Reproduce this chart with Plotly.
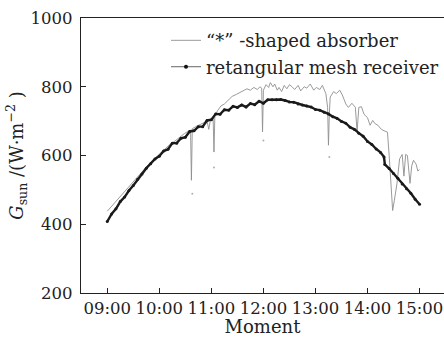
import plotly.graph_objects as go

# ---- data ----
gray_times = ["09:00","09:06","09:12","09:18","09:24","09:30","09:36","09:42","09:48","09:54",
              "10:00","10:05","10:09","10:13","10:18","10:22","10:25","10:29","10:33","10:36",
              "10:37","10:38","10:42","10:47","10:51","10:55","10:57","10:59","11:02","11:03",
              "11:04","11:07","11:11","11:15","11:19","11:24","11:29","11:33","11:37","11:41",
              "11:45","11:49","11:53","11:56","11:58","11:59","12:00","12:03","12:06","12:08",
              "12:11","12:13","12:16","12:18","12:21","12:24","12:27","12:30","12:33","12:36",
              "12:40","12:43","12:47","12:50","12:54","12:58","13:01","13:05","13:08","13:12",
              "13:14","13:15","13:16","13:17","13:21","13:24","13:28","13:31","13:35","13:38",
              "13:42","13:46","13:48","13:50","13:53","13:56","14:00","14:03","14:06","14:09",
              "14:12","14:16","14:19","14:23","14:25","14:28","14:29","14:31","14:34","14:37",
              "14:40","14:42","14:44","14:46","14:49","14:51","14:53","14:56","14:58","15:00"]
gray_values = [438, 455, 474, 492, 508, 524, 541, 558, 575, 590,
               604, 614, 624, 634, 642, 650, 658, 664, 670, 674,
               528, 678, 684, 690, 694, 700, 676, 705, 712, 610,
               714, 730, 744, 750, 760, 772, 778, 784, 788, 794,
               790, 798, 792, 800, 796, 669, 790, 806, 798, 812,
               800, 808, 790, 798, 786, 804, 794, 806, 800, 792,
               804, 788, 800, 796, 808, 790, 798, 792, 804, 780,
               740, 630, 720, 770, 786, 780, 790, 776, 750, 740,
               752, 740, 670, 740, 742, 720, 710, 688, 702, 692,
               688, 676, 672, 668, 600, 450, 440, 470, 519, 590,
               603, 540, 603, 600, 519, 570, 586, 575, 555, 559]

black_times = ["09:00","09:05","09:10","09:15","09:20","09:25","09:30","09:35","09:40","09:45",
               "09:50","09:55","10:00","10:05","10:10","10:15","10:20","10:25","10:30","10:35",
               "10:40","10:45","10:50","10:55","11:00","11:05","11:10","11:15","11:20","11:25",
               "11:30","11:35","11:40","11:45","11:50","11:55","12:00","12:05","12:10","12:15",
               "12:20","12:25","12:30","12:35","12:40","12:45","12:50","12:55","13:00","13:05",
               "13:10","13:15","13:20","13:25","13:30","13:35","13:40","13:45","13:50","13:55",
               "14:00","14:05","14:10","14:15","14:19","14:20","14:25","14:30","14:35","14:40",
               "14:45","14:50","14:55","15:00"]
black_values = [408, 430, 445, 466, 479, 498, 513, 531, 546, 563,
                576, 590, 598, 613, 618, 636, 636, 650, 653, 670,
                672, 684, 684, 702, 704, 721, 720, 733, 732, 743,
                740, 747, 741, 751, 748, 758, 752, 762, 762, 762,
                763, 760, 756, 755, 750, 747, 744, 741, 734, 732,
                726, 721, 713, 708, 699, 694, 682, 676, 665, 656,
                641, 632, 619, 609, 596, 574, 562, 548, 534, 517,
                503, 490, 473, 458]

stray_times = ["10:38", "11:03", "12:00", "13:16"]
stray_values = [489, 565, 644, 596]

tick_vals = [9, 10, 11, 12, 13, 14, 15]
tick_text = ["09:00", "10:00", "11:00", "12:00", "13:00", "14:00", "15:00"]


def to_hours(t):
    h, m = t.split(":")
    return int(h) + int(m) / 60.0


FONT = "DejaVu Serif"

fig = go.Figure()
fig.add_trace(go.Scatter(
    x=[to_hours(t) for t in gray_times], y=gray_values, mode="lines",
    line=dict(color="#8f8f8f", width=0.9),
    name="\u201c*\u201d -shaped absorber"))
fig.add_trace(go.Scatter(
    x=[to_hours(t) for t in black_times], y=black_values, mode="lines+markers",
    line=dict(color="#1a1a1a", width=2.4),
    marker=dict(color="#1a1a1a", size=3),
    showlegend=False, name="retangular mesh receiver"))
# legend entry for the mesh receiver (thin line with a dot, as in the reference key)
fig.add_trace(go.Scatter(
    x=[None], y=[None], mode="lines+markers",
    line=dict(color="#666", width=1),
    marker=dict(color="#111", size=4),
    name="retangular mesh receiver"))
fig.add_trace(go.Scatter(
    x=[to_hours(t) for t in stray_times], y=stray_values, mode="markers",
    marker=dict(color="#b0b0b0", size=2), showlegend=False, hoverinfo="skip"))

fig.update_layout(
    width=444, height=337,
    margin=dict(l=81, r=0, t=18, b=44),
    paper_bgcolor="white", plot_bgcolor="white",
    font=dict(family=FONT, size=16, color="#222"),
    showlegend=True,
    legend=dict(x=1.0, y=0.985, xanchor="right", yanchor="top",
                bgcolor="rgba(0,0,0,0)", itemwidth=30,
                font=dict(family=FONT, size=18, color="#222"),
                tracegroupgap=0),
)
fig.update_xaxes(
    range=[8.495, 15.47], tickvals=tick_vals, ticktext=tick_text,
    showline=True, linecolor="#222", linewidth=1.2, mirror=True,
    ticks="inside", ticklen=5, tickcolor="#222",
    showgrid=False, zeroline=False,
    title=dict(text="Moment", standoff=3, font=dict(family=FONT, size=18)),
    tickfont=dict(family=FONT, size=16.5),
)
fig.update_yaxes(
    range=[200, 1000], tickvals=[200, 400, 600, 800, 1000],
    showline=True, linecolor="#222", linewidth=1.2,
    ticks="inside", ticklen=5, tickcolor="#222",
    showgrid=False, zeroline=False, ticklabelstandoff=4,
    title=dict(text="<i>G</i><sub>sun</sub> /(W\u00b7m<sup>\u22122</sup> )", standoff=2,
               font=dict(family=FONT, size=18)),
    tickfont=dict(family=FONT, size=16.5),
)

fig.write_html("out.html")
